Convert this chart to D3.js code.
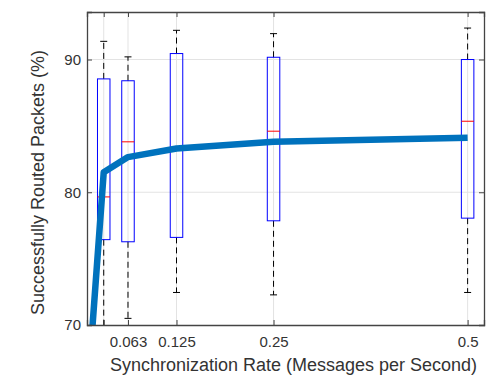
<!DOCTYPE html>
<html>
<head>
<meta charset="utf-8">
<script src="https://cdn.jsdelivr.net/npm/d3@7"></script>
<style>
    body { margin: 0; background: #fff; }
    text { font-family: "Liberation Sans", Arial, sans-serif; fill: #333; }
</style>
</head>
<body>
<div id="chart_area"></div>
<script>
// box plot stats per synchronization rate
var rates = [0.03125, 0.0625, 0.125, 0.25, 0.5];
var whiskerLow = [65, 70.5, 72.45, 72.27, 72.45];
var boxLow = [76.43, 76.27, 76.6, 77.85, 78.05];
var medians = [79.65, 83.8, 83.3, 84.6, 85.35];
var boxHigh = [88.54, 88.4, 90.45, 90.17, 90.0];
var whiskerHigh = [91.37, 90.2, 92.2, 91.95, 92.37];

// mean line
var lineRates = [0.015625, 0.03125, 0.0625, 0.125, 0.25, 0.5];
var lineValues = [69, 81.5, 82.65, 83.3, 83.8, 84.1];

// axis ticks
var xTicks = [0.03125, 0.0625, 0.125, 0.25, 0.5];
var xTickLabels = ['', '0.063', '0.125', '0.25', '0.5'];
var yTicks = [70, 80, 90];

function draw_chart() {
    var margin = {top: 12, right: 13, bottom: 50, left: 87},
        w = 497 - margin.left - margin.right,
        h = 375 - margin.top - margin.bottom,
        boxWidth = 12.5,
        capWidth = 7;

    var svg = d3.select('#chart_area').append('svg')
            .attr('width', 497)
            .attr('height', 375)
        .append('g')
            .attr('transform', 'translate(' + margin.left + ',' + margin.top + ')');

    var x = d3.scaleLinear().domain([0.0097, 0.5211]).range([0, w]);
    var y = d3.scaleLinear().domain([70, 93.58]).range([h, 0]);

    svg.append('clipPath').attr('id', 'plotclip')
        .append('rect').attr('width', w).attr('height', h);

    //grid lines
    svg.append('g').selectAll('line.vgrid')
        .data(xTicks).enter().append('line')
            .attr('x1', d => x(d)).attr('x2', d => x(d))
            .attr('y1', 0).attr('y2', h)
            .attr('stroke', '#e3e3e3').attr('stroke-width', 1);
    svg.append('g').selectAll('line.hgrid')
        .data(yTicks.filter(d => d > 70)).enter().append('line')
            .attr('x1', 0).attr('x2', w)
            .attr('y1', d => y(d)).attr('y2', d => y(d))
            .attr('stroke', '#e3e3e3').attr('stroke-width', 1);

    var boxes = svg.append('g').attr('clip-path', 'url(#plotclip)')
        .selectAll('g')
        .data(rates).enter().append('g');

    //whiskers
    boxes.append('line')
        .attr('x1', d => x(d)).attr('x2', d => x(d))
        .attr('y1', (d, i) => y(boxHigh[i])).attr('y2', (d, i) => y(whiskerHigh[i]))
        .attr('stroke', '#000').attr('stroke-dasharray', '6,4');
    boxes.append('line')
        .attr('x1', d => x(d)).attr('x2', d => x(d))
        .attr('y1', (d, i) => y(boxLow[i])).attr('y2', (d, i) => y(whiskerLow[i]))
        .attr('stroke', '#000').attr('stroke-dasharray', '6,4');
    boxes.append('line')
        .attr('x1', d => x(d) - capWidth / 2).attr('x2', d => x(d) + capWidth / 2)
        .attr('y1', (d, i) => y(whiskerHigh[i])).attr('y2', (d, i) => y(whiskerHigh[i]))
        .attr('stroke', '#000');
    boxes.append('line')
        .attr('x1', d => x(d) - capWidth / 2).attr('x2', d => x(d) + capWidth / 2)
        .attr('y1', (d, i) => y(whiskerLow[i])).attr('y2', (d, i) => y(whiskerLow[i]))
        .attr('stroke', '#000');

    //boxes
    boxes.append('rect')
        .attr('x', d => x(d) - boxWidth / 2)
        .attr('width', boxWidth)
        .attr('y', (d, i) => y(boxHigh[i]))
        .attr('height', (d, i) => y(boxLow[i]) - y(boxHigh[i]))
        .attr('fill', 'none').attr('stroke', '#0000ff').attr('stroke-width', 1);
    boxes.append('line')
        .attr('x1', d => x(d) - boxWidth / 2).attr('x2', d => x(d) + boxWidth / 2)
        .attr('y1', (d, i) => y(medians[i])).attr('y2', (d, i) => y(medians[i]))
        .attr('stroke', '#ff0000').attr('stroke-width', 1);

    //mean line
    var line = d3.line()
        .x((d, i) => x(lineRates[i]))
        .y(d => y(d));
    svg.append('path')
        .datum(lineValues)
        .attr('clip-path', 'url(#plotclip)')
        .attr('d', line)
        .attr('fill', 'none')
        .attr('stroke', '#0072bd')
        .attr('stroke-width', 6.5)
        .attr('stroke-linejoin', 'round');

    //axes
    var xAxis = d3.axisBottom(x).tickValues(xTicks)
        .tickFormat((d, i) => xTickLabels[i]).tickSize(-5).tickPadding(11);
    var xAxisTop = d3.axisTop(x).tickValues(xTicks).tickFormat('').tickSize(-5);
    var yAxis = d3.axisLeft(y).tickValues(yTicks).tickSize(-5).tickPadding(6);
    var yAxisRight = d3.axisRight(y).tickValues(yTicks).tickFormat('').tickSize(-5);

    var gx = svg.append('g').attr('transform', 'translate(0,' + h + ')').call(xAxis);
    var gxt = svg.append('g').call(xAxisTop);
    var gy = svg.append('g').call(yAxis);
    var gyr = svg.append('g').attr('transform', 'translate(' + w + ',0)').call(yAxisRight);

    [gx, gxt, gy, gyr].forEach(function(g) {
        g.selectAll('path.domain').attr('stroke', '#444').attr('stroke-width', 1.3);
        g.selectAll('.tick line').attr('stroke', '#444');
        g.selectAll('.tick text').style('font-size', '15px').attr('fill', '#333');
    });

    svg.append('text')
        .attr('x', w / 2 + 8)
        .attr('y', h + 46)
        .attr('text-anchor', 'middle')
        .style('font-size', '18px')
        .text('Synchronization Rate (Messages per Second)');

    svg.append('text')
        .attr('transform', 'translate(' + (-43) + ',' + (h / 2 + 14) + ') rotate(-90)')
        .attr('text-anchor', 'middle')
        .style('font-size', '18px')
        .text('Successfully Routed Packets (%)');
}

window.onload = draw_chart;
</script>
</body>
</html>
